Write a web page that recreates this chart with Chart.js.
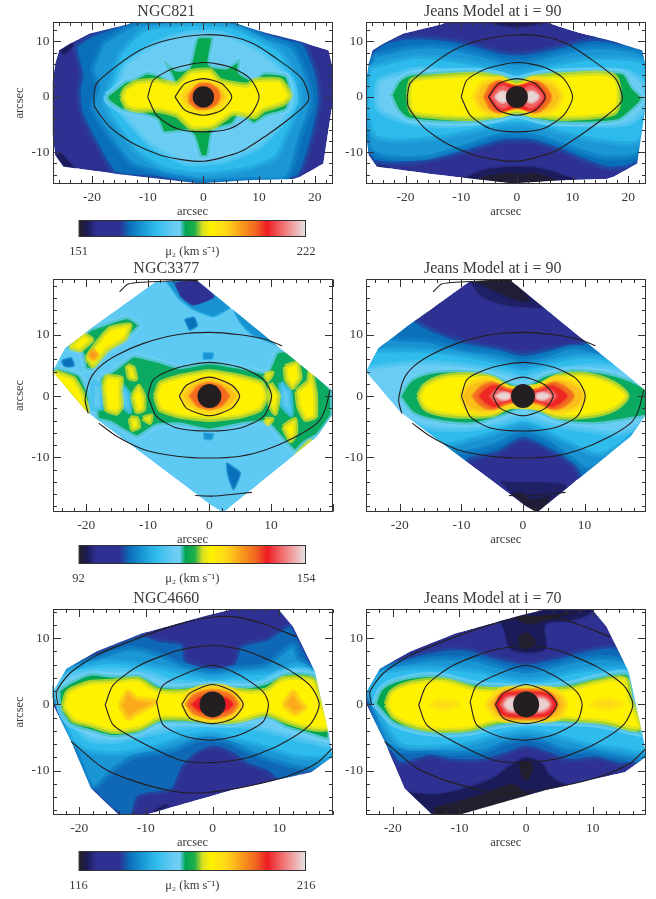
<!DOCTYPE html>
<html>
<head>
<meta charset="utf-8">
<title>mu2 maps</title>
<script src="https://cdn.jsdelivr.net/npm/chart.js@4"></script>
<style>
  html, body { margin: 0; background: #fff; width: 656px; height: 899px; overflow: hidden; }
  canvas { position: absolute; }
</style>
</head>
<body>
<script>
// colour table: fraction of range, colour
const cbarStops = [[0,'#231f20'],[.04,'#1b1b5a'],[.08,'#2e3192'],[.18,'#2e3192'],[.225,'#0a6fb9'],[.28,'#1a96d4'],[.34,'#2fbcec'],[.42,'#6accf3'],[.445,'#6dcff6'],[.47,'#00a651'],[.51,'#1fae4c'],[.545,'#d7df23'],[.58,'#fff200'],[.65,'#fdd81a'],[.71,'#f9a11b'],[.78,'#f26522'],[.83,'#ed1c24'],[.88,'#ef5b5b'],[.94,'#f0a0a0'],[1,'#e6e6e6']];

const ticks821 = { x: [-20,-10,0,10,20], y: [-10,0,10] };
const ticks3377 = { x: [-20,-10,0,10], y: [-10,0,10] };
const ticks4660 = { x: [-20,-10,0,10], y: [-10,0,10] };

// hulls of the observed field, arcsec
const hull821 = [[-25.9,8.4],[-24,9.6],[-20.5,11.4],[-13.5,13.1],[-12.6,13.6],[5,13.6],[7.5,12.7],[11.4,11.5],[17.7,9.9],[22.5,8.4],[23.2,5.4],[23.2,-1.2],[21.6,-12],[17.4,-14.4],[16.2,-14.8],[9,-15],[-0.6,-15.6],[-8.4,-14.7],[-16.2,-13.8],[-25.1,-12.6],[-26.6,-10.5],[-27.1,-6.6],[-27.1,2.4],[-26.6,6]];
const hull3377 = [[-8.8,18.6],[-2.3,19.1],[20,.9],[20,-3],[17.5,-6.6],[2.3,-19],[.6,-18],[-20,-2.5],[-25.5,4],[-23.5,7.8],[-19.3,11]];
const hull4660 = [[-23.9,1.9],[-21.9,5.4],[-17.4,8],[-10.9,10.6],[-.9,13.4],[3.1,14.4],[9.9,14.4],[12.1,11.7],[15.4,4.9],[17.4,-4.1],[18,-7.9],[14.9,-10.2],[3.1,-12.9],[-10.4,-16.8],[-13.9,-16.8],[-18.2,-12.7],[-21.2,-5.6],[-23.9,-.1]];

// isophotes, arcsec
const iso821 = [
  [[-19.7,0],[-19.2,2.4],[-16.2,5.1],[-11.4,8.4],[-6.6,10.2],[0,11.2],[5.4,10.8],[9,9.6],[12.3,7.5],[17.7,3.3],[18.9,-.6],[16.2,-3.3],[11.4,-6.9],[6.6,-9.9],[0,-11.6],[-6.6,-10.8],[-12.6,-8.4],[-16.8,-5.4],[-19.5,-1.8],[-19.7,0]],
  [[-10,0],[-9,3],[-5.4,5.1],[0,6.2],[4.8,5.4],[8.4,3.3],[10,0],[8.4,-3.3],[4.8,-5.7],[0,-6.3],[-4.8,-5.7],[-8.4,-3.3],[-10,0]],
  [[-5.1,0],[-3.3,2.4],[0,3.3],[3.3,2.4],[5.1,0],[3.3,-2.4],[0,-3.3],[-3.3,-2.4],[-5.1,0]]
];
const iso3377 = [
  [[-19.7,-2.8],[-20.2,-.6],[-19.4,2.7],[-17.8,4.8],[-15,6.7],[-10.7,8.6],[-5.3,10],[0,10.4],[5,10],[9.3,9.2],[11.8,8.2]],
  [[-18,-4.4],[-15,-6.6],[-10.7,-8.7],[-5.3,-9.8],[0,-10.1],[5,-9.8],[9.3,-8.7],[13.7,-6.8],[17.5,-4.4],[18.8,-2.2],[19.6,1]],
  [[-14.6,17],[-13.2,18.3],[-10.2,18.6],[-3.7,18.9],[-2,18.8]],
  [[-2.3,-16.2],[.7,-16.3],[3.9,-16],[6.9,-15.7]],
  [[-10,0],[-9.1,2.7],[-5.3,4.6],[0,5.5],[5,4.7],[8.8,2.7],[10.1,0],[8.8,-3.3],[5,-5.2],[0,-5.7],[-5.3,-5.2],[-8.6,-3.3],[-10,0]],
  [[-4.9,0],[-3.7,1.8],[0,3.1],[3.6,1.8],[4.9,0],[3.6,-2],[0,-3.2],[-3.7,-2],[-4.9,0]]
];
const iso4660 = [
  [[-4.6,0],[-3.4,1.7],[0,3],[3.1,1.9],[4.6,0],[3.1,-2.1],[0,-2.9],[-3.4,-2.1],[-4.6,0]],
  [[-8.4,.4],[-7.4,2.9],[-3.9,4.7],[0,5.9],[4.1,4.4],[7.6,1.9],[8.4,0],[7.6,-2.6],[4.1,-4.6],[0,-5.4],[-3.9,-4.9],[-7.4,-3.1],[-8.4,.4]],
  [[-16.1,-.1],[-14.9,2.9],[-10.9,5.9],[-4.9,8.2],[0,8.9],[4.6,8.2],[10.6,5.7],[14.6,2.9],[16,0],[14.6,-3.1],[10.1,-6.1],[5.1,-8.1],[0,-8.8],[-4.9,-8.4],[-10.9,-5.6],[-14.9,-3.1],[-16.1,-.1]],
  [[-23.2,0],[-23.4,1.9],[-21.4,4.7],[-17.4,7.4],[-11.9,9.7],[-5.4,12],[.1,13.2],[4.1,13.1],[8.1,12],[12.6,10.2]],
  [[-21.2,-5.6],[-16.4,-9.6],[-11.4,-11.7],[-5.4,-13.2],[-.9,-13.3],[5.1,-12.4],[11.1,-10.9],[15.6,-8.9],[18,-6.6]]
];

// filled levels: [km/s, outline in arcsec], painted in this order
const bands821 = [
  [154,[[-25.9,8.4],[-24,9.6],[-23,9.5],[-25,7.5]]],
  [154,[[-26.6,-10.5],[-25.1,-12.6],[-23,-13],[-25.5,-10]]],
  [167,[[-20,11.3],[-13,13.6],[-5,13.6],[7,13],[12,11.3],[18,9.8],[20.5,4],[21,-1],[19.5,-8],[17,-14.5],[9,-15],[0,-15.5],[-8,-14.7],[-16,-13.8],[-19,-9],[-22,-3],[-22.5,1],[-22,4],[-23,9]]],
  [171,[[-18,10],[-12,13.3],[-4,13.4],[6,13],[11,11],[16,9],[18.5,4],[19.5,-1],[17.5,-7],[15,-14.6],[8,-14.9],[0,-15.2],[-7,-14],[-13,-12],[-17,-7],[-20,-2],[-19,2],[-20,5]]],
  [175,[[-15,8],[-11,12],[-3,13.2],[5,12.8],[10,10.5],[14,8],[17,3],[17.5,-1],[15.5,-6],[13,-11],[8,-13],[0,-14],[-7,-13],[-12,-10],[-15,-6],[-18,-1],[-17,2]]],
  [181,[[-14,6],[-9,9.5],[-3,11.5],[3,11.5],[9,9],[13,6],[16,2.5],[16.5,-1],[14,-5],[10,-9],[4,-11.5],[-3,-12],[-9,-9],[-13,-5],[-16,-1],[-15.5,2]]],
  [185,[[-17.5,.3],[-15.9,1.5],[-14,3],[-12.6,3.3],[-10.2,4.5],[-7.8,4],[-5.4,2.7],[-7.2,6.6],[-4.8,5],[-2.7,5.4],[-1.2,10.8],[1.8,10.8],[1.2,6],[4.2,5.4],[6.6,6.9],[6.6,4.5],[9,3.3],[10.8,4.5],[15,3.9],[15.9,.6],[15,-2.4],[11.4,-3.6],[9,-5],[6.6,-3.3],[5.4,-5],[1.8,-6.3],[.9,-10.8],[-.6,-10.8],[-1.8,-7.2],[-3,-6.3],[-7.2,-6.6],[-8.4,-4.2],[-12,-3],[-15,-2.4],[-17.4,-.6]]],
  [192,[[-14.7,0],[-14,1.5],[-12,2.7],[-8.4,3],[-4.8,2.4],[-2.4,4.5],[1.2,4.8],[3,3],[7.8,2.1],[9.3,3],[13.8,3],[15.6,.3],[14.4,-1.2],[10.8,-2.4],[9.3,-3.6],[5.4,-3],[1.8,-5.4],[-2.1,-5.7],[-4.8,-3.3],[-8.4,-2.4],[-12,-2.4],[-13.8,-1.8]]],
  [199,[[-4,0],[-3,1.5],[-1,2.8],[1,2.9],[3,2],[4.3,0],[3,-1.8],[1,-2.5],[-1,-2.6],[-3,-1.6]]],
  [206,[[-2.6,.3],[-1,2.3],[1,2.4],[2.6,1.4],[3,0],[2.4,-1.3],[1,-2.1],[-1,-2.2],[-2.5,-1]]]
];
const bandsJeans90a = [
  [154,[[-6,13.6],[-3,12.8],[0,12.5],[3,12.8],[6,13.6]]],
  [154,[[-10,-14.8],[-6,-13],[-2,-12.5],[3,-12.5],[7,-13.5],[11,-15.2]]],
  [152,[[-5.4,-14],[-.7,-13.5],[1,-13.8],[3,-13.5],[7.7,-15.2],[-.5,-15.8],[-8,-15]]],
  [154,[[-26,-11],[-25,-12.6],[-23,-12.8]]],
  [167,[[-25.8,8.6],[-23.5,10],[-19,10.8],[-13,10.5],[-8,9.6],[-3,8.2],[0,7.9],[3,8.2],[8,9.3],[13,10.5],[18,10],[22.8,8.4],[23.2,5],[23.2,-1.2],[22,-11.5],[17,-13],[12,-11.5],[8,-9.8],[3,-8.2],[0,-8],[-3,-8.2],[-8,-9.7],[-13,-11],[-19,-12],[-26,-11.5],[-27,-6],[-27,2],[-26.6,6]]],
  [171,[[-25.8,7.5],[-19,9],[-13,9],[-7,7.8],[-3,6.7],[0,6.3],[3,6.7],[8,8],[13,9],[18,8.8],[22.8,7.5],[23.2,0],[22,-10],[16,-11],[10,-9.3],[4,-7.3],[0,-6.8],[-4,-7.2],[-10,-9.2],[-17,-11],[-26,-10],[-27,-5],[-27,3]]],
  [175,[[-26.5,5.5],[-18,7.3],[-12,6.8],[-6,5.8],[-2,4.9],[0,4.5],[2,4.9],[7,6],[13,7],[19,7],[23,6],[23.2,-1.5],[22,-8],[15,-8],[8,-6.5],[3,-5.2],[0,-4.9],[-3,-5.2],[-8,-6.3],[-15,-7.5],[-25,-7.5],[-27,-3],[-27,2]]],
  [181,[[-25,3],[-18,5],[-12,4.7],[-6,4.3],[-2,3.7],[0,3.3],[2,3.7],[6,4.5],[13,4.9],[20,4.5],[23,2],[23,-2],[20,-4.8],[13,-5],[6,-4.6],[2,-3.8],[0,-3.5],[-2,-3.9],[-7,-4.8],[-14,-5.2],[-20,-4.5],[-25,-2]]],
  [185,[[-22.8,.3],[-21.3,3],[-19.2,4.2],[-15.6,4.5],[-7.8,4.8],[-3.7,4.3],[0,3.3],[3.5,4.2],[8.3,4.7],[19,4.5],[20.9,1.8],[22.7,-.3],[20.3,-3],[18,-4.5],[8.3,-4.9],[3.5,-4.3],[0,-3.3],[-3.7,-4.2],[-9.6,-4.8],[-19.2,-4.2],[-21.3,-2.7]]],
  [192,[[-19.5,.3],[-18.9,3],[-15.6,3.6],[-7.2,4.1],[-3,3.5],[0,2.5],[3,3.5],[8.3,4],[17.3,3.9],[18.4,0],[17.3,-3],[8.3,-3.9],[3,-3.3],[0,-2.7],[-3,-3.3],[-7.2,-3.9],[-15.6,-3.5],[-18.9,-2.7]]],
  [199,[[-7.8,0],[-6.3,2.4],[-3,3.3],[0,1.9],[3,3.3],[6.5,2.4],[8,0],[6.5,-2.4],[3,-3.3],[0,-2],[-3,-3.3],[-6.3,-2.4]]],
  [206,[[-6,0],[-4.8,2.2],[-3,2.9],[-1,2],[1,2],[3,2.9],[4.8,2.2],[6.2,0],[4.8,-2.2],[3,-2.9],[1,-2],[-1,-2],[-3,-2.9],[-4.8,-2.2]]],
  [210,[[-5.2,0],[-4,2],[-2.6,2.6],[0,2],[2.6,2.6],[4,2],[5.2,0],[4,-2],[2.6,-2.6],[0,-2],[-2.6,-2.6],[-4,-2]]],
  [214,[[-4.8,0],[-3.7,1.6],[-2.4,2.2],[0,1],[2.4,2.2],[3.7,1.6],[4.8,0],[3.7,-1.6],[2.4,-2.2],[0,-1],[-2.4,-2.2],[-3.7,-1.6]]],
  [221,[[-4,0],[-3,1],[-2,.9],[-1.5,0],[-2,-.9],[-3,-1]]],
  [221,[[1.5,0],[2,.9],[3,1],[4,0],[3,-1],[2,-.9]]]
];
const bands3377 = [
  [109,[[-7,18.8],[-2.3,19],[3.4,14.6],[.6,13],[-2.9,14.3],[-5,16]]],
  [100,[[-5.6,18.4],[-2.3,19],[.7,16.2],[-2.6,14.9],[-4.5,16.2]]],
  [109,[[3.5,15],[6,13],[9.5,9.5],[12,8],[7,10],[5,12]]],
  [106,[[-4,12.5],[-2.5,12.8],[-2,11.5],[-3.2,10.8]]],
  [109,[[-1,7],[.6,7],[.4,6],[-.9,6]]],
  [106,[[-24,5.8],[-22.5,6.2],[-22,5],[-23.5,4.7]]],
  [106,[[2.8,-10.9],[5,-12.5],[3.9,-15.2],[3,-12.8]]],
  [109,[[-.9,-5.8],[.6,-5.8],[.4,-7],[-.8,-7]]],
  // top left island
  [121,[[-19.4,11],[-13.4,13],[-11.2,11.6],[-13.4,9.2],[-16.7,7],[-18.9,4.3],[-20.2,4.3],[-20.8,7],[-23.3,7.8]]],
  [128,[[-22.7,8],[-20.5,10],[-19.1,9.2],[-21,7.5]]],
  [128,[[-20,6.2],[-18.3,8.6],[-16.2,11],[-12.9,11.6],[-13.7,9.4],[-16.7,7.5],[-18.9,4.9]]],
  [138,[[-19.5,6.7],[-18.9,7.3],[-18.3,6.7],[-18.9,6.1]]],
  // left edge
  [121,[[-24.8,4.8],[-21,3.5],[-19.4,0],[-19.4,-3],[-20,-2.5],[-25.5,4]]],
  [128,[[-25.1,4],[-22.1,2.9],[-20.5,.2],[-19.8,-2.5],[-20.2,-2.5],[-25.5,3.6]]],
  // central mass
  [121,[[-17.8,3.2],[-15.6,4.3],[-12.4,6.7],[-8.6,5.9],[-4.8,4.8],[0,5.6],[5,4.8],[9.3,4],[10.9,7.3],[13.7,7.5],[18,3.2],[20,.9],[20,-3],[17.5,-6.6],[14.7,-9.8],[11.5,-6.8],[9.3,-4.4],[5,-4.7],[0,-5.7],[-4.8,-4.7],[-8.6,-4.9],[-11.8,-6.8],[-16.2,-4.4],[-18.3,-3.8],[-18.5,-2]]],
  [117,[[-19,2.5],[-17.5,1.5],[-17.5,-2],[-19,-2]]],
  [117,[[-14.5,2],[-13.2,.5],[-13,-2.5],[-14.5,-1]]],
  [117,[[11.6,2.2],[13,.8],[13.3,-3],[11.8,-1.5]]],
  [128,[[-17.2,1.8],[-16.7,3.2],[-14.3,2.9],[-14.5,.8],[-14.3,-1.7],[-15.1,-2.8],[-16.7,-2.2],[-17,0]]],
  [128,[[-12.5,0],[-11.5,1.6],[-10.7,0],[-10.7,-2.2],[-11.8,-2.5]]],
  [128,[[-13.4,5],[-12.4,4.6],[-12,2.8],[-13,3]]],
  [128,[[-12.9,-3.6],[-11.8,-3.6],[-11.5,-5],[-12.5,-5.4]]],
  [128,[[-8.8,0],[-8,2.1],[-4.8,3.2],[0,4],[5,3.2],[8.5,2.1],[9.3,0],[8.2,-2.2],[5,-3.3],[0,-3.8],[-4.8,-3.3],[-8,-2.2]]],
  [128,[[9.9,2.1],[11.2,.2],[10.7,-2.8],[9.9,-1.6]]],
  [128,[[12.3,4.8],[14.2,5.4],[14.7,3],[13.5,1.4],[12.5,2.8]]],
  [128,[[14.2,.8],[16.1,2.4],[16.4,4.3],[17.2,.5],[17.2,-3.3],[15.6,-3.8],[14.5,-1.7]]],
  [128,[[12,-5],[13.9,-3.8],[14,-6],[13.2,-7.3]]],
  [128,[[9,3.5],[10.2,3.8],[9.5,2.6]]],
  [128,[[9,-3.8],[10.2,-3.8],[9.5,-4.5]]],
  [128,[[-10.8,-3.6],[-9.5,-3.2],[-9.7,-4.3]]],
  [121,[[12.6,-11],[15.3,-7.8],[17.5,-6.6],[16,-9],[13.5,-11.6]]],
  [128,[[13.1,-11.2],[15,-8.7],[16.4,-7.4],[15.3,-9.4],[13.5,-11.4]]],
  [134,[[-4.7,0],[-3.5,1.6],[-1.5,2.8],[1.5,2.8],[3.5,1.7],[4.8,0],[3.5,-1.7],[1.5,-2.6],[-1.5,-2.6],[-3.5,-1.5]]],
  [140,[[-3.3,0],[-2,1.6],[0,2.2],[2,1.6],[3.3,0],[2,-1.6],[0,-2.2],[-2,-1.6]]]
];
const bandsJeans90b = [
  [95,[[-8.8,18.8],[-6.9,16.2],[-2.6,14.6],[1.7,14.3],[4,14.4],[-2,19.4]]],
  [93,[[-8.8,18.8],[-6.4,17.8],[-2,15.8],[1.2,15.4],[-2,19.4]]],
  [95,[[-4.2,-13.6],[-1,-13.9],[3.4,-13.9],[7.2,-14.7],[2.4,-19.4]]],
  [93,[[-2,-15.8],[-.4,-15.6],[1.2,-16.6],[4.5,-16.3],[2.3,-19.4]]],
  [106,[[-18.3,12.9],[-15,11],[-9.6,9],[-4.2,8],[0,7],[4.4,7.8],[9,8.5],[11,9],[21,2],[21,-3],[10,-14],[8.2,-11.4],[4.4,-9],[0,-7.1],[-4.2,-9.3],[-8.6,-10.4],[-10,-11.5],[-21,-3],[-26,4],[-24,8]]],
  [109,[[-22,9.5],[-15,9],[-9.6,7.7],[-4,7],[0,6],[4,6.8],[8,8],[12.5,7],[21,1],[21,-3],[11,-12],[7.5,-10],[4,-7.5],[0,-6],[-4,-7.8],[-8,-9],[-12,-9],[-21,-3],[-26,4]]],
  [113,[[-24,7.5],[-17,7.5],[-10,6.8],[-4,5.6],[0,4.5],[4,5.5],[9,6.5],[14,6],[21,1],[21,-3],[13,-9.5],[7,-7.5],[3,-5.5],[0,-4.6],[-3,-5.5],[-8,-7],[-14,-8],[-20,-4],[-26,4]]],
  [118,[[-26,4.5],[-18,5.5],[-12,5.3],[-6,4.5],[-2,3.6],[0,3],[2,3.6],[6,4.5],[12,5],[17,4],[21,1],[21,-3],[16,-6],[10,-5.5],[4,-4.6],[0,-3.4],[-4,-4.6],[-10,-5.5],[-16,-5],[-22,-2]]],
  [121,[[-20.2,0],[-18.3,2.7],[-15,4],[-10.2,4.3],[-5.3,3.7],[0,1.7],[3.4,3.5],[7.7,4.4],[13.1,4],[17.5,2.7],[20.5,.8],[20.5,-3],[17.5,-3.8],[12,-4.6],[6.6,-4.3],[2.8,-3],[0,-2.2],[-3.1,-3.3],[-7.5,-4.6],[-12.9,-4.4],[-17.8,-3]]],
  [128,[[-17,0],[-15.9,1.8],[-12.9,3.2],[-8.6,3.5],[-4.8,2.9],[-2,1.3],[2.3,1.6],[5.5,3.2],[10.4,3.5],[14.7,2.1],[16.9,0],[14.7,-2.2],[10.4,-3.3],[5.5,-3.3],[2.3,-1.9],[-2,-1.7],[-4.8,-3],[-8.6,-3.3],[-12.9,-3],[-15.9,-2]]],
  [134,[[-10.2,0],[-9.1,1.8],[-5.9,2.9],[-2,1.3],[2.3,1.6],[5.5,3],[9,1.8],[10.1,0],[9,-1.9],[5.5,-2.7],[2.3,-1.9],[-2,-1.7],[-5.9,-2.8],[-9.1,-2]]],
  [140,[[-8.3,0],[-7,1.5],[-5,2.3],[-2.5,1.3],[0,.8],[2.5,1.3],[5,2.3],[7,1.5],[8.3,0],[7,-1.5],[5,-2.2],[2.5,-1.3],[0,-.8],[-2.5,-1.3],[-5,-2.2],[-7,-1.5]]],
  [143,[[-7.3,0],[-6.2,1.2],[-4.6,1.9],[-2.5,1],[2.5,1],[4.6,1.9],[6.2,1.2],[7.3,0],[6.2,-1.2],[4.6,-1.9],[2.5,-1],[-2.5,-1],[-4.6,-1.9],[-6.2,-1.2]]],
  [147,[[-5.6,0],[-4.5,1.1],[-3,1],[-1.5,.5],[1.5,.5],[3,1],[4.5,1.1],[5.6,0],[4.5,-1.1],[3,-1],[1.5,-.5],[-1.5,-.5],[-3,-1],[-4.5,-1.1]]],
  [153,[[-4.5,0],[-3.5,.6],[-2.2,.4],[-2.2,-.4],[-3.5,-.6]]],
  [153,[[2.2,.4],[3.5,.6],[4.5,0],[3.5,-.6],[2.2,-.4]]]
];
const bands4660 = [
  [120,[[-9,-16],[-7,-15],[-6.5,-15.3],[-8.5,-16.3]]],
  [138,[[-24,2],[-22,5.4],[-17.4,8],[-10.9,10.6],[-8,9.8],[-4.4,9.2],[-3.9,6.7],[0,5.7],[3.1,6.2],[4.1,8.9],[8.1,10],[11.6,12.2],[12.1,11.7],[15.4,4.9],[18,-8],[14.9,-10.2],[10.1,-11.7],[8.1,-10.2],[5.1,-9.1],[3.1,-7.6],[.1,-6.6],[-2.4,-7.6],[-4.4,-9.6],[-6,-13],[-11,-14],[-12,-16.8],[-13.9,-16.8],[-18.2,-12.7],[-21.2,-5.6]]],
  [144,[[-24,2],[-22,5.2],[-17,7.2],[-12,8.5],[-8,7.5],[-4.5,6],[0,5],[3,5.5],[8,6],[12,9],[13,7],[15.4,4.9],[18,-8],[15,-9.8],[9,-8.5],[5,-7],[2,-5.5],[-2,-5.3],[-6,-7],[-12,-8],[-15,-10],[-18,-12.5],[-21,-5.6]]],
  [150,[[-24,2],[-22,5],[-16,6.5],[-10,6],[-5,5],[0,4],[4,4.6],[9,5],[13,6],[15.4,4.5],[18,-7.5],[13,-8],[8,-6.5],[4,-5.5],[0,-4.4],[-4,-5],[-9,-6.5],[-15,-7.5],[-19,-7],[-21,-5.6]]],
  [158,[[-24,2],[-21.5,4.5],[-16,5.2],[-10,4.8],[-6,3.5],[-3,3.2],[0,3],[3,3.3],[7,3.3],[10,4.8],[14,5.2],[15.8,4],[18,-6],[14,-5.5],[9,-4.2],[5,-3.3],[0,-3],[-5,-3.5],[-10,-4.6],[-15,-5.6],[-19,-5]]],
  [163,[[-23.2,2.2],[-21.4,3.4],[-18.4,4.7],[-14.9,4.4],[-10.9,4.5],[-7.9,2.9],[-5.4,2.7],[-2.9,2.9],[.1,3.2],[3.1,2.8],[5.6,2.8],[8.1,3.4],[11.1,4.8],[15.4,4.4],[16.4,.9],[17.6,-4.1],[17.4,-5.4],[14.6,-4.6],[11.1,-3.6],[8.1,-2.1],[3.1,-3.1],[.1,-3.1],[-3.9,-2.9],[-7.9,-2.9],[-10.9,-4.4],[-14.9,-5],[-18.4,-4.1],[-21.4,-3.1],[-22.9,-.9]]],
  [174,[[-22.4,-.4],[-21.7,1.9],[-18.4,3.3],[-14.9,3.5],[-11.2,3.8],[-8.4,2.2],[-5.4,1.9],[.1,2.4],[5.6,2],[8.1,2.2],[10.6,3.9],[15.1,3.7],[16.1,.9],[17.4,-3.6],[14.6,-3.6],[11.1,-2.6],[8.1,-1.4],[4.1,-2.4],[.1,-2.6],[-3.9,-2.1],[-7.9,-2.1],[-10.9,-3.6],[-14.9,-4.1],[-18.4,-3.1],[-20.9,-2.4]]],
  [186,[[-13.9,-.1],[-12.7,1.9],[-11.4,.9],[-8.4,.4],[-11.4,-1.4],[-12.7,-2.1]]],
  [186,[[10.6,-.1],[12.1,1.9],[13.1,.4],[13.9,-.4],[12.4,-1.4]]],
  [184,[[-4.5,0],[-3.5,1.8],[-1.5,2.6],[1.5,2.7],[3.5,1.8],[4.6,0],[3.5,-1.6],[1.5,-2.3],[-1.5,-2.4],[-3.5,-1.7]]],
  [193,[[-4,0],[-2.8,1.5],[0,2.2],[2.8,1.5],[3.8,0],[2.8,-1.4],[0,-2.2],[-2.8,-1.4]]],
  [199,[[-3.3,0],[-2,1.1],[-1,1],[-1,-1],[-2,-1.1]]],
  [199,[[1,1],[2,1.1],[3.2,0],[2,-1.1],[1,-1]]]
];
const bandsJeans70 = [
  [120,[[-5,14],[-3.5,11.5],[-2.5,8.4],[0,7.7],[3,8.4],[3,12],[6.5,12.5],[9.5,13.5],[10,14.5],[-2,14.5]]],
  [117,[[-1.8,13.5],[1.5,13.5],[9.5,14.2],[5.5,13.2],[.5,11.9],[-1,12.5]]],
  [117,[[-1.4,10.5],[.3,10.9],[1.6,9.4],[0,8.1],[-1,8.6]]],
  [120,[[-18.5,-13],[-14,-13.5],[-9,-12.5],[-5,-11],[-2.5,-9.2],[0,-7.9],[2.5,-8.9],[3.5,-10.5],[6,-12],[9,-12.5],[5,-14],[-10.4,-17],[-14,-17]]],
  [117,[[-1.1,-8.7],[0,-8.4],[1.1,-9.2],[.8,-10.9],[0,-11.7],[-1,-10.4]]],
  [117,[[-14,-15.4],[-12.5,-15.1],[-6,-13.2],[-2,-11.9],[0,-13.2],[2,-13.6],[-10,-17],[-13.5,-17]]],
  [138,[[-24,2],[-22,5.4],[-17.5,7.3],[-12.5,8.4],[-8.5,8.4],[-4.5,7.2],[0,6.4],[4.5,7.2],[8.5,8.2],[13.5,8.7],[15.4,4.9],[18,-8],[14.5,-9.2],[10.5,-8.3],[6.5,-8.6],[3,-7.4],[0,-6.6],[-3,-7.6],[-6.5,-8.6],[-11,-8.6],[-14.5,-8],[-19,-9],[-21.2,-5.6]]],
  [144,[[-24,2],[-22,5.2],[-17,6.5],[-12,7],[-8,6.8],[-4,5.8],[0,5],[4,5.8],[8,6.8],[13,7],[15.4,6],[18,-8],[14,-8],[10,-7.2],[6,-7],[3,-5.8],[0,-5.2],[-3,-5.8],[-6,-7],[-11,-7.4],[-15,-7],[-19,-7],[-21.2,-5.6]]],
  [150,[[-24,2],[-21.5,4.8],[-17,5.5],[-12,5.5],[-7,5],[-3,4],[0,3.7],[3,4],[7,5],[12,5.5],[15.5,5],[18,-7],[14,-6.8],[9,-6],[5,-5],[0,-4],[-5,-5],[-9,-6],[-14,-6.5],[-19,-6]]],
  [163,[[-22.8,.1],[-21.8,2.4],[-19.5,3.7],[-16,4.4],[-12.5,4.4],[-7.5,3.2],[0,2.8],[6.5,3.2],[10.5,4.2],[15.3,4.7],[16.2,.9],[17.5,-4.1],[17.5,-4.6],[12,-3.4],[9,-3],[4.5,-2.9],[0,-2.9],[-4.5,-3.4],[-8.5,-4.4],[-13,-4.6],[-16.5,-4.1],[-20,-2.9]]],
  [174,[[-21,0],[-20.2,1.9],[-17.5,3.2],[-12.5,3.7],[-7.5,2.4],[0,2.2],[6.5,2.4],[10.5,3.4],[14.8,3.9],[15.6,.9],[17,-3.6],[12,-2.7],[9,-2.4],[4.5,-2.1],[0,-2.2],[-4.5,-2.6],[-8.5,-3.7],[-13,-3.9],[-16.5,-3.4],[-19.8,-1.9]]],
  [181,[[-14.5,0],[-12.5,.6],[-10,0],[-12.5,-.7]]],
  [181,[[9.5,0],[12,.8],[14.5,.1],[12,-.7]]],
  [184,[[-6,0],[-4.5,1.7],[-3,2.4],[3,2.4],[5,1.7],[6,0],[5,-1.9],[3,-2.4],[-3,-2.4],[-4.5,-1.9]]],
  [193,[[-4.8,0],[-3.8,1.6],[-2.5,2.2],[2.5,2.2],[3.8,1.6],[4.8,0],[3.8,-1.6],[2.5,-2.2],[-2.5,-2.2],[-3.8,-1.6]]],
  [199,[[-4.6,0],[-3.8,1.4],[-2.4,1.9],[2.4,1.9],[3.8,1.4],[4.6,0],[3.8,-1.4],[2.4,-1.9],[-2.4,-1.9],[-3.8,-1.4]]],
  [205,[[-4,0],[-3.3,1.1],[-2.2,1.5],[2.2,1.5],[3.3,1.1],[4,0],[3.3,-1.1],[2.2,-1.5],[-2.2,-1.5],[-3.3,-1.1]]],
  [214,[[-3.4,0],[-2.8,.8],[-1.8,1],[-1.8,-1],[-2.8,-.8]]],
  [214,[[1.8,1],[2.8,.8],[3.5,0],[2.8,-.8],[1.8,-1]]]
];

const ink = '#231f20'
const textCol = '#3a3a3a'
const serif = 'Liberation Serif'

function hex(c) { return [1,3,5].map(i => parseInt(c.substr(i,2),16)) }
function colorAt(f) {
    f = Math.max(f, 0)
    for (let i = 1; i < cbarStops.length; i++) {
        if (f <= cbarStops[i][0]) {
            const [f0,c0] = cbarStops[i-1], [f1,c1] = cbarStops[i]
            const t = (f - f0) / (f1 - f0), a = hex(c0), b = hex(c1)
            return '#' + a.map((n,k) => Math.round(n + (b[k]-n)*t).toString(16).padStart(2,'0')).join('')
        }
    }
    return cbarStops[cbarStops.length-1][1]
}
function pts(list, close) {
    const out = list.map(p => ({x: p[0], y: p[1]}))
    if (close) out.push(out[0])
    return out
}

// box plus inward major and minor ticks on all four sides
const framePlugin = {
    id: 'frame',
    afterDraw(chart, args, opts) {
        const {ctx, chartArea: a, scales} = chart
        ctx.save()
        ctx.strokeStyle = '#333'
        ctx.lineWidth = 1
        const l = Math.round(a.left)+.5, r = Math.round(a.right)-.5, t = Math.round(a.top)+.5, b = Math.round(a.bottom)-.5
        ctx.strokeRect(l, t, r-l, b-t)
        if (opts.ticks) {
            ctx.beginPath()
            const step = 2
            for (let v = Math.ceil(scales.x.min/step)*step; v <= scales.x.max; v += step) {
                const px = Math.round(scales.x.getPixelForValue(v))+.5, len = v % 10 === 0 ? 7.5 : 3.5
                ctx.moveTo(px,t); ctx.lineTo(px,t+len); ctx.moveTo(px,b); ctx.lineTo(px,b-len)
            }
            for (let v = Math.ceil(scales.y.min/step)*step; v <= scales.y.max; v += step) {
                const py = Math.round(scales.y.getPixelForValue(v))+.5, len = v % 10 === 0 ? 7.5 : 3.5
                ctx.moveTo(l,py); ctx.lineTo(l+len,py); ctx.moveTo(r,py); ctx.lineTo(r-len,py)
            }
            ctx.stroke()
        }
        ctx.restore()
    }
}

function makePanel(p) {
    const canvas = document.createElement('canvas')
    canvas.width = p.cw; canvas.height = p.h + 22 + 35
    canvas.style.left = p.cl + 'px'
    canvas.style.top = (p.top - 22) + 'px'
    document.body.appendChild(canvas)

    const layers = []
    const frac = v => (v - p.vmin) / (p.vmax - p.vmin)
    const baseF = frac(p.base)
    layers.push({data: pts(p.hull,true), fill:'shape', backgroundColor: colorAt(baseF), borderWidth:0, tension:.001})
    p.bands.forEach(b => {
        const f = frac(b[0])
        // edge stroked with the neighbouring colour so that levels shade into each other
        const edge = f < baseF ? colorAt(f + .03) : colorAt(f - .035)
        layers.push({data: pts(b[1],true), fill:'shape', backgroundColor:colorAt(f), borderColor:edge+'c0', borderWidth:(f > .75 || f < baseF) ? 2 : 5, tension:p.tension})
    })
    // white surround, outer ring one way and hull the other, so only the field stays visible
    const ring = [p.hull[0],[p.xr[0],p.yr[1]],[p.xr[0],p.yr[0]],[p.xr[1],p.yr[0]],[p.xr[1],p.yr[1]],[p.xr[0],p.yr[1]],...p.hull,p.hull[0]]
    layers.push({data: pts(ring), fill:'shape', backgroundColor:'#fff', borderWidth:0, tension:.001})
    p.iso.forEach(c => layers.push({data: pts(c), fill:false, borderColor:ink, borderWidth:1.1, tension:.25}))
    layers.push({data:[{x:0,y:0}], showLine:false, pointRadius:p.disc, pointBackgroundColor:ink, pointBorderWidth:0})

    const n = layers.length
    layers.forEach((d,i) => {
        d.order = n - i
        if (d.showLine === undefined) { d.showLine = true; d.pointRadius = 0 }
    })

    new Chart(canvas, {
        type: 'scatter',
        data: {datasets: layers},
        plugins: [framePlugin],
        options: {
            responsive:false, animation:false, events:[],
            layout:{padding:{left:0, right:p.cw - p.frameR + p.cl, bottom:0, top:0}},
            plugins:{
                legend:{display:false}, tooltip:{enabled:false},
                title:{display:true, text:p.title, color:textCol, font:{family:serif,size:16,weight:'normal',lineHeight:1}, padding:{top:4,bottom:2}},
                frame:{ticks:true}
            },
            scales:{
                x:{min:p.xr[0], max:p.xr[1], grid:{display:false,drawTicks:false}, border:{display:false},
                    afterBuildTicks:s => { s.ticks = p.ticks.x.map(v => ({value:v})) },
                    afterFit:s => { s.height = 35 },
                    ticks:{color:textCol, font:{family:serif,size:13.5}, padding:5, autoSkip:false, maxRotation:0},
                    title:{display:true, text:'arcsec', color:textCol, font:{family:serif,size:12.5,lineHeight:1.2}, padding:0}},
                y:{min:p.yr[0], max:p.yr[1], grid:{display:false,drawTicks:false}, border:{display:false},
                    afterBuildTicks:s => { s.ticks = p.ticks.y.map(v => ({value:v})) },
                    afterFit:s => { s.width = p.frameL - p.cl },
                    ticks:{color:textCol, font:{family:serif,size:13.5}, padding:3, autoSkip:false},
                    title:{display:p.yTitle, text:'arcsec', color:textCol, font:{family:serif,size:12.5,lineHeight:1.2}, padding:{top:12,bottom:0}}}
            }
        }
    })
}

function makeBar(top, h, vmin, vmax) {
    const canvas = document.createElement('canvas')
    canvas.width = 265; canvas.height = h + 24
    canvas.style.left = '60px'
    canvas.style.top = top + 'px'
    document.body.appendChild(canvas)
    new Chart(canvas, {
        type:'bar',
        data:{labels:[''], datasets:[{data:[[vmin,vmax]], barPercentage:1, categoryPercentage:1,
            backgroundColor: c => {
                const a = c.chart.chartArea
                if (!a) return '#000'
                const g = c.chart.ctx.createLinearGradient(a.left,0,a.right,0)
                cbarStops.forEach(s => g.addColorStop(s[0], s[1]))
                return g
            }}]},
        plugins:[framePlugin],
        options:{
            indexAxis:'y', responsive:false, animation:false, events:[],
            layout:{padding:{left:18.5,right:19,top:0,bottom:0}},
            plugins:{legend:{display:false}, tooltip:{enabled:false}, frame:{ticks:false}},
            scales:{
                y:{display:false},
                x:{min:vmin, max:vmax, grid:{display:false,drawTicks:false}, border:{display:false},
                    afterBuildTicks:s => { s.ticks = [vmin,(vmin+vmax)/2,vmax].map(v => ({value:v})) },
                    afterFit:s => { s.height = 24 },
                    ticks:{color:textCol, font:{family:serif,size:12.5}, padding:7, autoSkip:false, maxRotation:0,
                        callback:v => v === vmin || v === vmax ? String(v) : 'μ₂ (km s⁻¹)'}}
            }
        }
    })
}

const leftCol = {cl:0, cw:385, frameL:52.5, frameR:332.5, yTitle:true}
const rightCol = {cl:340, cw:320, frameL:366, frameR:645.5, yTitle:false}

makePanel({...leftCol, title:'NGC821', top:22, h:162, xr:[-27.1,23.2], yr:[-15.7,13.5], ticks:ticks821, hull:hull821, iso:iso821, bands:bands821, base:160, vmin:151, vmax:222, tension:.2, disc:10.7})
makePanel({...rightCol, title:'Jeans Model at i = 90', top:22, h:162, xr:[-27.1,23.1], yr:[-15.7,13.5], ticks:ticks821, hull:hull821, iso:iso821, bands:bandsJeans90a, base:160, vmin:151, vmax:222, tension:.3, disc:11})
makePanel({...leftCol, title:'NGC3377', top:279, h:233, xr:[-25.5,20], yr:[-18.9,19.1], ticks:ticks3377, hull:hull3377, iso:iso3377, bands:bands3377, base:117, vmin:92, vmax:154, tension:.15, disc:12})
makePanel({...rightCol, title:'Jeans Model at i = 90', top:279, h:233, xr:[-25.5,19.9], yr:[-18.9,19.1], ticks:ticks3377, hull:hull3377, iso:iso3377, bands:bandsJeans90b, base:100, vmin:92, vmax:154, tension:.3, disc:12})
makePanel({...leftCol, title:'NGC4660', top:609, h:206, xr:[-24,18], yr:[-16.7,14.4], ticks:ticks4660, hull:hull4660, iso:iso4660, bands:bands4660, base:129, vmin:116, vmax:216, tension:.25, disc:13})
makePanel({...rightCol, title:'Jeans Model at i = 70', top:609, h:206, xr:[-24,17.9], yr:[-16.7,14.4], ticks:ticks4660, hull:hull4660, iso:iso4660, bands:bandsJeans70, base:129, vmin:116, vmax:216, tension:.3, disc:13})

makeBar(220, 17, 151, 222)
makeBar(545, 19, 92, 154)
makeBar(851, 20, 116, 216)
</script>
</body>
</html>
